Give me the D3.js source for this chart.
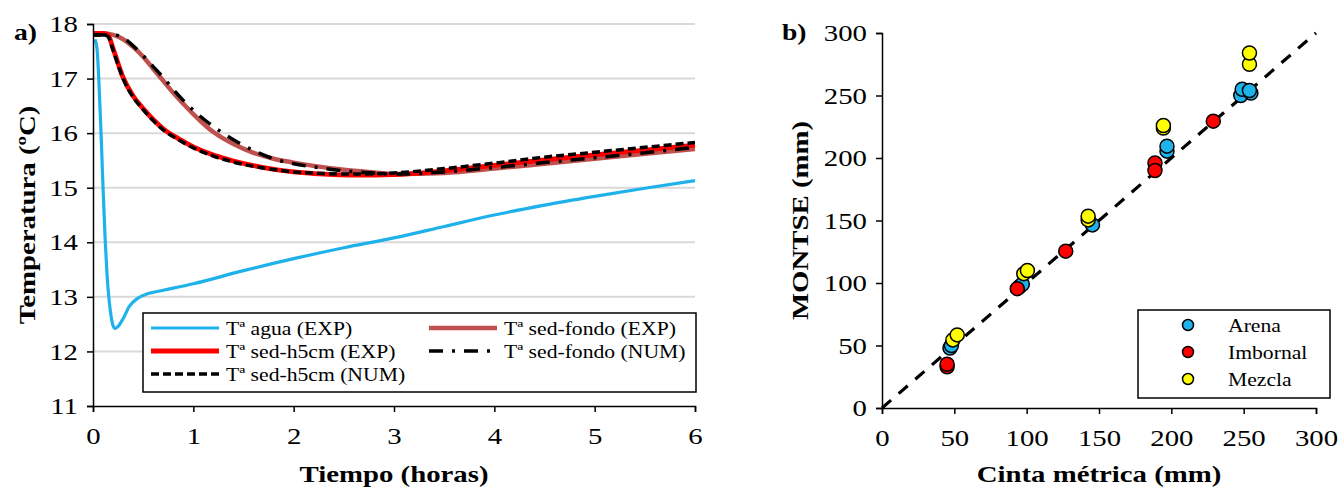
<!DOCTYPE html>
<html lang="es">
<head>
  <meta charset="UTF-8">
  <title>Temperaturas y MONTSE</title>
  <style>
    body { margin: 0; background: #fff; }
    svg { display: block; font-family: "Liberation Serif", "Times New Roman", serif; }
    .tick text { font-family: "Liberation Serif", "Times New Roman", serif; font-size: 24px; fill: #000; }
    .axis path, .axis line { stroke: #000; stroke-width: 1.5; }
    .title { font-size: 24px; font-weight: bold; }
    .leg { font-size: 19px; }
  </style>
  <script src="https://cdn.jsdelivr.net/npm/d3@7"></script>
</head>
<body>
<svg id="chart" width="1338" height="487"></svg>
<script>
  // ---- panel a) temperatures over time (hours) ----
  const tAgua = [0.02, 0.04, 0.06, 0.08, 0.10, 0.12, 0.14, 0.16, 0.18, 0.20, 0.22, 0.25, 0.30, 0.36, 0.45, 0.55, 0.7, 1.0, 1.5, 2.0, 2.5, 3.0, 3.5, 4.0, 4.5, 5.0, 5.5, 6.0];
  const agua = [17.72, 17.55, 16.9, 16.0, 15.0, 14.1, 13.4, 12.95, 12.65, 12.47, 12.42, 12.46, 12.6, 12.82, 12.98, 13.06, 13.12, 13.24, 13.48, 13.7, 13.9, 14.08, 14.29, 14.5, 14.68, 14.84, 14.99, 15.13];

  const tH5 = [0, 0.05, 0.1, 0.15, 0.2, 0.3, 0.4, 0.5, 0.6, 0.7, 0.85, 1.0, 1.2, 1.4, 1.7, 2.0, 2.3, 2.6, 3.0, 3.5, 4.0, 4.5, 5.0, 5.5, 6.0];
  const h5Exp = [17.83, 17.83, 17.83, 17.8, 17.55, 17.02, 16.68, 16.45, 16.25, 16.08, 15.9, 15.75, 15.6, 15.49, 15.37, 15.29, 15.25, 15.23, 15.24, 15.31, 15.41, 15.51, 15.6, 15.69, 15.78];
  const h5Num = [17.8, 17.8, 17.8, 17.77, 17.52, 17.0, 16.66, 16.43, 16.23, 16.06, 15.88, 15.73, 15.58, 15.47, 15.36, 15.29, 15.26, 15.25, 15.27, 15.35, 15.45, 15.56, 15.65, 15.74, 15.83];

  const tFondo = [0, 0.1, 0.2, 0.3, 0.4, 0.5, 0.6, 0.7, 0.8, 0.9, 1.0, 1.2, 1.4, 1.6, 1.8, 2.0, 2.2, 2.5, 2.8, 3.0, 3.5, 4.0, 4.5, 5.0, 5.5, 6.0];
  const fondoExp = [17.83, 17.83, 17.8, 17.72, 17.58, 17.4, 17.18, 16.96, 16.74, 16.54, 16.35, 16.02, 15.8, 15.64, 15.53, 15.46, 15.4, 15.33, 15.28, 15.25, 15.27, 15.35, 15.44, 15.53, 15.62, 15.71];
  const fondoNum = [17.8, 17.8, 17.8, 17.75, 17.6, 17.42, 17.22, 17.02, 16.8, 16.6, 16.42, 16.12, 15.88, 15.68, 15.53, 15.44, 15.38, 15.31, 15.27, 15.25, 15.29, 15.37, 15.46, 15.55, 15.64, 15.74];

  const seriesA = [
    {name: "Tª agua (EXP)", t: tAgua, v: agua, color: "#1fb2ea", width: 3.2, dash: null},
    {name: "Tª sed-fondo (EXP)", t: tFondo, v: fondoExp, color: "#c0504d", width: 4.5, dash: null},
    {name: "Tª sed-h5cm (EXP)", t: tH5, v: h5Exp, color: "#ff0000", width: 4.8, dash: null},
    {name: "Tª sed-fondo (NUM)", t: tFondo, v: fondoNum, color: "#000", width: 3.5, dash: "14,9,3,9"},
    {name: "Tª sed-h5cm (NUM)", t: tH5, v: h5Num, color: "#000", width: 3.5, dash: "8,4"}
  ];
  const legendOrderA = ["Tª agua (EXP)", "Tª sed-fondo (EXP)", "Tª sed-h5cm (EXP)", "Tª sed-fondo (NUM)", "Tª sed-h5cm (NUM)"];

  // ---- panel b) MONTSE vs tape measure ----
  const arena = [[47, 48], [48, 50], [95, 97], [97, 99], [145.5, 146.5], [197, 205.5], [197, 209.5], [248, 250], [249, 255], [255, 252], [254, 254]];
  const imbornal = [[45, 33], [45, 35], [93.5, 95.5], [127, 125.5], [188.7, 196], [188.7, 190], [229, 229.5]];
  const mezcla = [[49, 54.5], [52, 58.5], [98, 107.5], [100.5, 110], [142.5, 150.5], [142.5, 153.5], [194.5, 224], [194.5, 226], [254, 275], [254, 284]];
  const groupsB = [
    {name: "Arena", pts: arena, color: "#1fb2ea"},
    {name: "Imbornal", pts: imbornal, color: "#ff0000"},
    {name: "Mezcla", pts: mezcla, color: "#ffff00"}
  ];

  const SX = 1.2; // the source text is drawn a bit wide
  const svg = d3.select("#chart");

  function label(x, y, txt, cls, opts = {}) {
    const rot = opts.rotate ? " rotate(-90)" : "";
    return svg.append("text")
      .attr("class", cls)
      .attr("text-anchor", opts.anchor || "start")
      .attr("transform", `translate(${x},${y})${rot} scale(${opts.sx || SX},1)`)
      .text(txt);
  }

  function styleAxis(g) {
    g.attr("font-family", null).attr("font-size", null);
    g.selectAll(".tick text").attr("transform", `scale(${SX},1)`);
  }

  // ===== panel a =====
  const xA = d3.scaleLinear().domain([0, 6]).range([93, 695]);
  const yA = d3.scaleLinear().domain([11, 18]).range([406, 24]);

  svg.append("g")
    .selectAll("line")
    .data(d3.range(12, 19))
    .join("line")
    .attr("x1", xA(0)).attr("x2", xA(6))
    .attr("y1", d => yA(d)).attr("y2", d => yA(d))
    .attr("stroke", "#d9d9d9").attr("stroke-width", 2);

  const lineA = d3.line().curve(d3.curveMonotoneX);
  svg.append("g")
    .selectAll("path")
    .data(seriesA)
    .join("path")
    .attr("fill", "none")
    .attr("stroke", d => d.color)
    .attr("stroke-width", d => d.width)
    .attr("stroke-dasharray", d => d.dash)
    .attr("stroke-linejoin", "round")
    .attr("d", d => lineA(d.t.map((t, i) => [xA(t), yA(d.v[i])])));

  svg.append("g").attr("class", "axis")
    .attr("transform", `translate(0,${yA(11)})`)
    .call(d3.axisBottom(xA).ticks(6).tickSize(6).tickPadding(15).tickFormat(d3.format("d")))
    .call(styleAxis);
  svg.append("g").attr("class", "axis")
    .attr("transform", `translate(${xA(0)},0)`)
    .call(d3.axisLeft(yA).ticks(7).tickSize(6).tickPadding(6.5).tickFormat(d3.format("d")))
    .call(styleAxis);

  // legend a
  const legA = svg.append("g");
  legA.append("rect").attr("x", 143).attr("y", 313).attr("width", 553).attr("height", 79)
    .attr("fill", "#fff").attr("stroke", "#000").attr("stroke-width", 1.5);
  legendOrderA.forEach((name, i) => {
    const s = seriesA.find(d => d.name === name);
    const col = i % 2, row = Math.floor(i / 2);
    const lx = col === 0 ? 151 : 429, ly = 328 + row * 23;
    legA.append("line").attr("x1", lx).attr("x2", lx + 68).attr("y1", ly).attr("y2", ly)
      .attr("stroke", s.color).attr("stroke-width", s.width)
      .attr("stroke-dasharray", s.dash);
    label(lx + 75, ly + 7, name, "leg", {sx: 1.14});
  });

  label(14, 40, "a)", "title", {sx: 1.15});
  label(xA(3), 482, "Tiempo (horas)", "title", {anchor: "middle"});
  label(35, yA(14.5), "Temperatura (ºC)", "title", {anchor: "middle", rotate: true});

  // ===== panel b =====
  const xB = d3.scaleLinear().domain([0, 300]).range([882, 1316]);
  const yB = d3.scaleLinear().domain([0, 300]).range([408, 33]);

  svg.append("line")
    .attr("x1", xB(0)).attr("y1", yB(0)).attr("x2", xB(300)).attr("y2", yB(300))
    .attr("stroke", "#000").attr("stroke-width", 3.2).attr("stroke-dasharray", "12,10");

  svg.append("g").attr("class", "axis")
    .attr("transform", `translate(0,${yB(0)})`)
    .call(d3.axisBottom(xB).ticks(6).tickSize(6).tickPadding(15))
    .call(styleAxis);
  svg.append("g").attr("class", "axis")
    .attr("transform", `translate(${xB(0)},0)`)
    .call(d3.axisLeft(yB).ticks(6).tickSize(6).tickPadding(6.5))
    .call(styleAxis);

  groupsB.forEach(g => {
    svg.append("g")
      .selectAll("circle")
      .data(g.pts)
      .join("circle")
      .attr("cx", d => xB(d[0])).attr("cy", d => yB(d[1])).attr("r", 7)
      .attr("fill", g.color).attr("stroke", "#000").attr("stroke-width", 1.5);
  });

  const legB = svg.append("g");
  legB.append("rect").attr("x", 1138).attr("y", 310).attr("width", 192).attr("height", 88)
    .attr("fill", "#fff").attr("stroke", "#000").attr("stroke-width", 1.5);
  groupsB.forEach((g, i) => {
    const ly = 325 + i * 27;
    legB.append("circle").attr("cx", 1188).attr("cy", ly).attr("r", 5.5)
      .attr("fill", g.color).attr("stroke", "#000").attr("stroke-width", 1.5);
    label(1228, ly + 7, g.name, "leg", {sx: 1.14});
  });

  label(782, 40, "b)", "title", {sx: 1.15});
  label(xB(150), 482, "Cinta métrica (mm)", "title", {anchor: "middle"});
  label(808, yB(150), "MONTSE (mm)", "title", {anchor: "middle", rotate: true});
</script>
</body>
</html>
